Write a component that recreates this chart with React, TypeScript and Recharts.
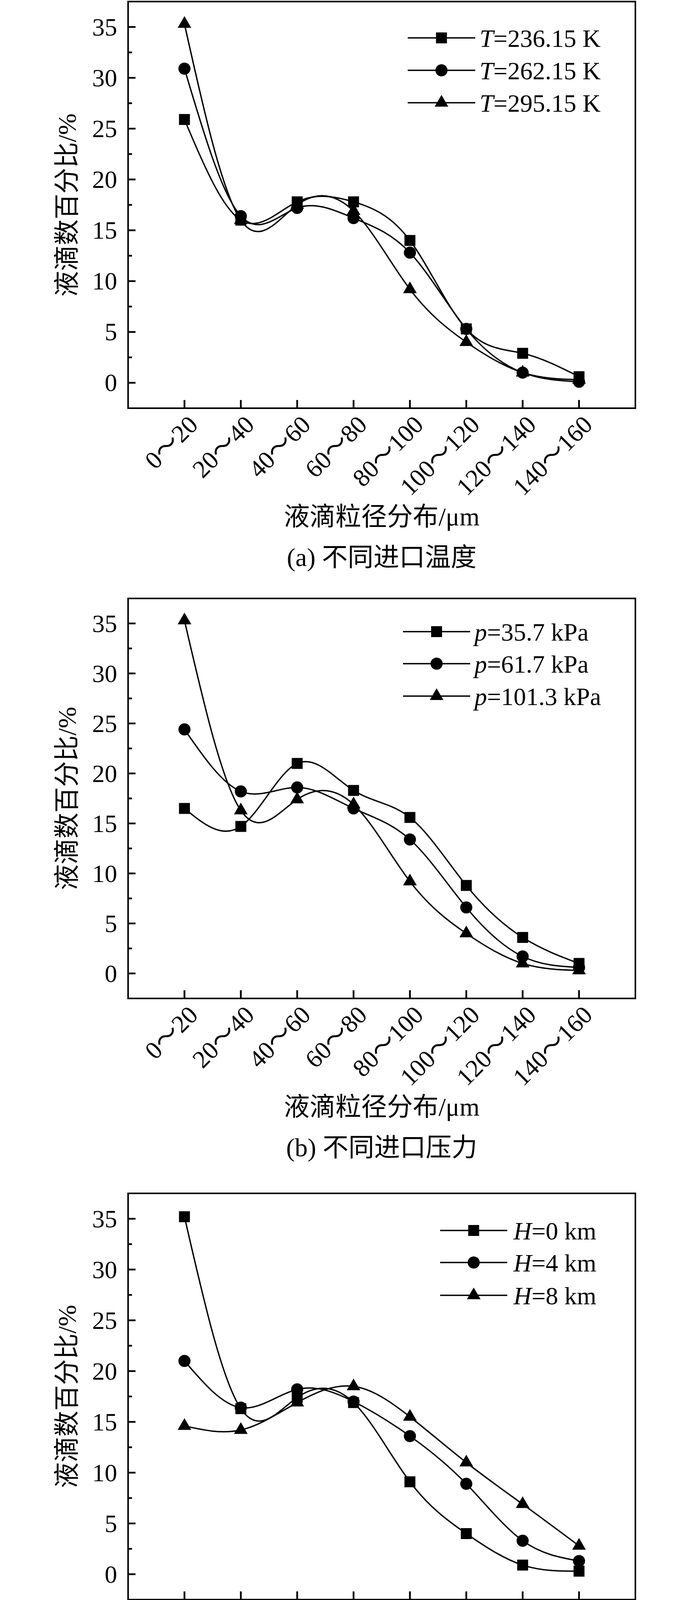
import React from "react";
import { LineChart, Line, XAxis, YAxis, ReferenceArea } from "recharts";

const SERIF = "'Liberation Serif', 'Times New Roman', 'Noto Sans CJK SC', serif";

// droplet size bins (μm)
const SIZE_BINS = ["0～20", "20～40", "40～60", "60～80", "80～100", "100～120", "120～140", "140～160"];
const X_TICKS = [0, 1, 2, 3, 4, 5, 6, 7];
const Y_TICKS = [0, 2.5, 5, 7.5, 10, 12.5, 15, 17.5, 20, 22.5, 25, 27.5, 30, 32.5, 35];

// (a) inlet temperature
const T_236 = [25.9, 16.0, 17.8, 17.8, 14.0, 5.3, 2.9, 0.6];
const T_262 = [30.9, 16.4, 17.2, 16.2, 12.8, 5.3, 1.0, 0.1];
const T_295 = [35.3, 16.0, 17.5, 16.9, 9.2, 4.0, 1.0, 0.3];
const T_LABELS = ["=236.15 K", "=262.15 K", "=295.15 K"];

// (b) inlet pressure
const P_357 = [16.5, 14.7, 21.0, 18.3, 15.6, 8.8, 3.6, 1.0];
const P_617 = [24.4, 18.2, 18.6, 16.5, 13.4, 6.6, 1.7, 0.6];
const P_1013 = [35.3, 16.3, 17.4, 16.9, 9.2, 4.0, 1.0, 0.3];
const P_LABELS = ["=35.7 kPa", "=61.7 kPa", "=101.3 kPa"];

// (c) altitude
const H_0 = [35.2, 16.3, 17.4, 16.9, 9.1, 4.0, 0.9, 0.3];
const H_4 = [21.0, 16.4, 18.2, 17.0, 13.6, 8.9, 3.3, 1.3];
const H_8 = [14.6, 14.2, 16.9, 18.5, 15.5, 11.0, 6.9, 2.8];
const H_LABELS = ["=0 km", "=4 km", "=8 km"];

type Marker = "square" | "circle" | "triangle";
const MARKERS: Marker[] = ["square", "circle", "triangle"];

interface PanelSpec {
  top: number;
  bottom: number;
  series: number[][];
  symbol: string;
  labels: string[];
  legendX1: number;
  legendX2: number;
  legendTextX: number;
  legendRows: number[];
  caption: string;
}

const PANELS: PanelSpec[] = [
  {
    top: 4, bottom: 1045, series: [T_236, T_262, T_295], symbol: "T", labels: T_LABELS,
    legendX1: 1044, legendX2: 1217, legendTextX: 1228, legendRows: [93, 176, 259],
    caption: "(a) 不同进口温度",
  },
  {
    top: 1532, bottom: 2556, series: [P_357, P_617, P_1013], symbol: "p", labels: P_LABELS,
    legendX1: 1032, legendX2: 1204, legendTextX: 1215, legendRows: [85, 167, 250],
    caption: "(b) 不同进口压力",
  },
  {
    top: 3055, bottom: 4095, series: [H_0, H_4, H_8], symbol: "H", labels: H_LABELS,
    legendX1: 1127, legendX2: 1299, legendTextX: 1315, legendRows: [95, 177, 261],
    caption: "(c) 不同海拔高度",
  },
];

const PLOT_LEFT = 328;
const PLOT_RIGHT = 1627;
const PLOT_CENTER = (PLOT_LEFT + PLOT_RIGHT) / 2;
const BELOW = 460;

function markerShape(kind: Marker, cx: number, cy: number, key?: string) {
  if (kind === "square") {
    return <rect key={key} x={cx - 14} y={cy - 14} width={28} height={28} fill="#000" />;
  }
  if (kind === "circle") {
    return <circle key={key} cx={cx} cy={cy} r={15.5} fill="#000" />;
  }
  return (
    <polygon
      key={key}
      points={`${cx},${cy - 20} ${cx - 17.5},${cy + 10} ${cx + 17.5},${cy + 10}`}
      fill="#000"
    />
  );
}

function XTick(props: any) {
  const { x, y, payload } = props;
  const tx = x + 38;
  const ty = y + 46;
  return (
    <g>
      <line x1={x} y1={y} x2={x} y2={y - 21} stroke="#000" strokeWidth={4.5} />
      <text
        x={tx}
        y={ty}
        transform={`rotate(-45, ${tx}, ${ty})`}
        textAnchor="end"
        fontFamily={SERIF}
        fontSize={64}
        fill="#000"
      >
        {SIZE_BINS[payload.value]}
      </text>
    </g>
  );
}

function YTick(props: any) {
  const { x, y, payload } = props;
  const major = payload.value % 5 === 0;
  return (
    <g>
      <line x1={x} y1={y} x2={x + (major ? 19 : 10)} y2={y} stroke="#000" strokeWidth={4.5} />
      {major && (
        <text
          x={x - 28}
          y={y}
          textAnchor="end"
          dominantBaseline="central"
          fontFamily={SERIF}
          fontSize={64}
          fill="#000"
        >
          {payload.value}
        </text>
      )}
    </g>
  );
}

function Panel({ spec }: { spec: PanelSpec }) {
  const rows = SIZE_BINS.map((_, i) => ({
    idx: i,
    s0: spec.series[0][i],
    s1: spec.series[1][i],
    s2: spec.series[2][i],
  }));
  const plotH = spec.bottom - spec.top;
  const chartH = plotH + 4 + BELOW;
  const midY = (spec.top + spec.bottom) / 2;
  const legendSym = (spec.legendX1 + spec.legendX2) / 2;

  return (
    <>
      <div style={{ position: "absolute", left: 0, top: spec.top - 4 }}>
        <LineChart
          width={1772}
          height={chartH}
          data={rows}
          margin={{ top: 4, right: 1772 - PLOT_RIGHT, bottom: BELOW - 2, left: 0 }}
        >
          <XAxis
            type="number"
            dataKey="idx"
            domain={[-1, 8]}
            ticks={X_TICKS}
            interval={0}
            height={2}
            tickSize={0}
            tickMargin={0}
            axisLine={false}
            tickLine={false}
            tick={(p: any) => <XTick {...p} />}
            allowDataOverflow
          />
          <YAxis
            type="number"
            domain={[-2.5, 37.5]}
            ticks={Y_TICKS}
            interval={0}
            width={PLOT_LEFT}
            tickSize={0}
            tickMargin={0}
            axisLine={false}
            tickLine={false}
            tick={(p: any) => <YTick {...p} />}
            allowDataOverflow
          />
          <ReferenceArea
            x1={-1}
            x2={8}
            y1={-2.5}
            y2={37.5}
            fill="none"
            stroke="#000"
            strokeWidth={4}
            ifOverflow="visible"
          />
          {MARKERS.map((kind, si) => (
            <Line
              key={kind}
              dataKey={`s${si}`}
              type="natural"
              stroke="#000"
              strokeWidth={3.5}
              isAnimationActive={false}
              dot={(p: any) => markerShape(kind, p.cx, p.cy, `${kind}-${p.index}`)}
              activeDot={false}
            />
          ))}
        </LineChart>
      </div>

      {MARKERS.map((kind, i) => {
        const y = spec.top + spec.legendRows[i];
        return (
          <React.Fragment key={`lg-${kind}`}>
            <svg
              style={{ position: "absolute", left: spec.legendX1, top: y - 25 }}
              width={spec.legendX2 - spec.legendX1}
              height={50}
            >
              <line x1={0} y1={25} x2={spec.legendX2 - spec.legendX1} y2={25} stroke="#000" strokeWidth={3.5} />
              {markerShape(kind, legendSym - spec.legendX1, 25)}
            </svg>
            <div
              style={{
                position: "absolute",
                left: spec.legendTextX,
                top: y - 30,
                fontFamily: SERIF,
                fontSize: 64,
                lineHeight: "64px",
                whiteSpace: "nowrap",
              }}
            >
              <i>{spec.symbol}</i>
              {spec.labels[i]}
            </div>
          </React.Fragment>
        );
      })}

      <div
        style={{
          position: "absolute",
          left: 172,
          top: midY,
          transform: "translate(-50%, -50%) rotate(-90deg)",
          fontFamily: SERIF,
          fontSize: 66,
          lineHeight: "66px",
          whiteSpace: "nowrap",
        }}
      >
        液滴数百分比/%
      </div>
      <div
        style={{
          position: "absolute",
          left: PLOT_CENTER - 500,
          width: 1000,
          top: spec.bottom + 275 - 30,
          textAlign: "center",
          fontFamily: SERIF,
          fontSize: 66,
          lineHeight: "66px",
          whiteSpace: "nowrap",
        }}
      >
        液滴粒径分布/μm
      </div>
      <div
        style={{
          position: "absolute",
          left: PLOT_CENTER - 500,
          width: 1000,
          top: spec.bottom + 379 - 30,
          textAlign: "center",
          fontFamily: SERIF,
          fontSize: 66,
          lineHeight: "66px",
          whiteSpace: "nowrap",
        }}
      >
        {spec.caption}
      </div>
    </>
  );
}

export default function App() {
  return (
    <div style={{ position: "relative", width: 1772, height: 4521, background: "#fff", overflow: "hidden" }}>
      <style>{"body{margin:0}"}</style>
      {PANELS.map((spec) => (
        <Panel key={spec.caption} spec={spec} />
      ))}
    </div>
  );
}
